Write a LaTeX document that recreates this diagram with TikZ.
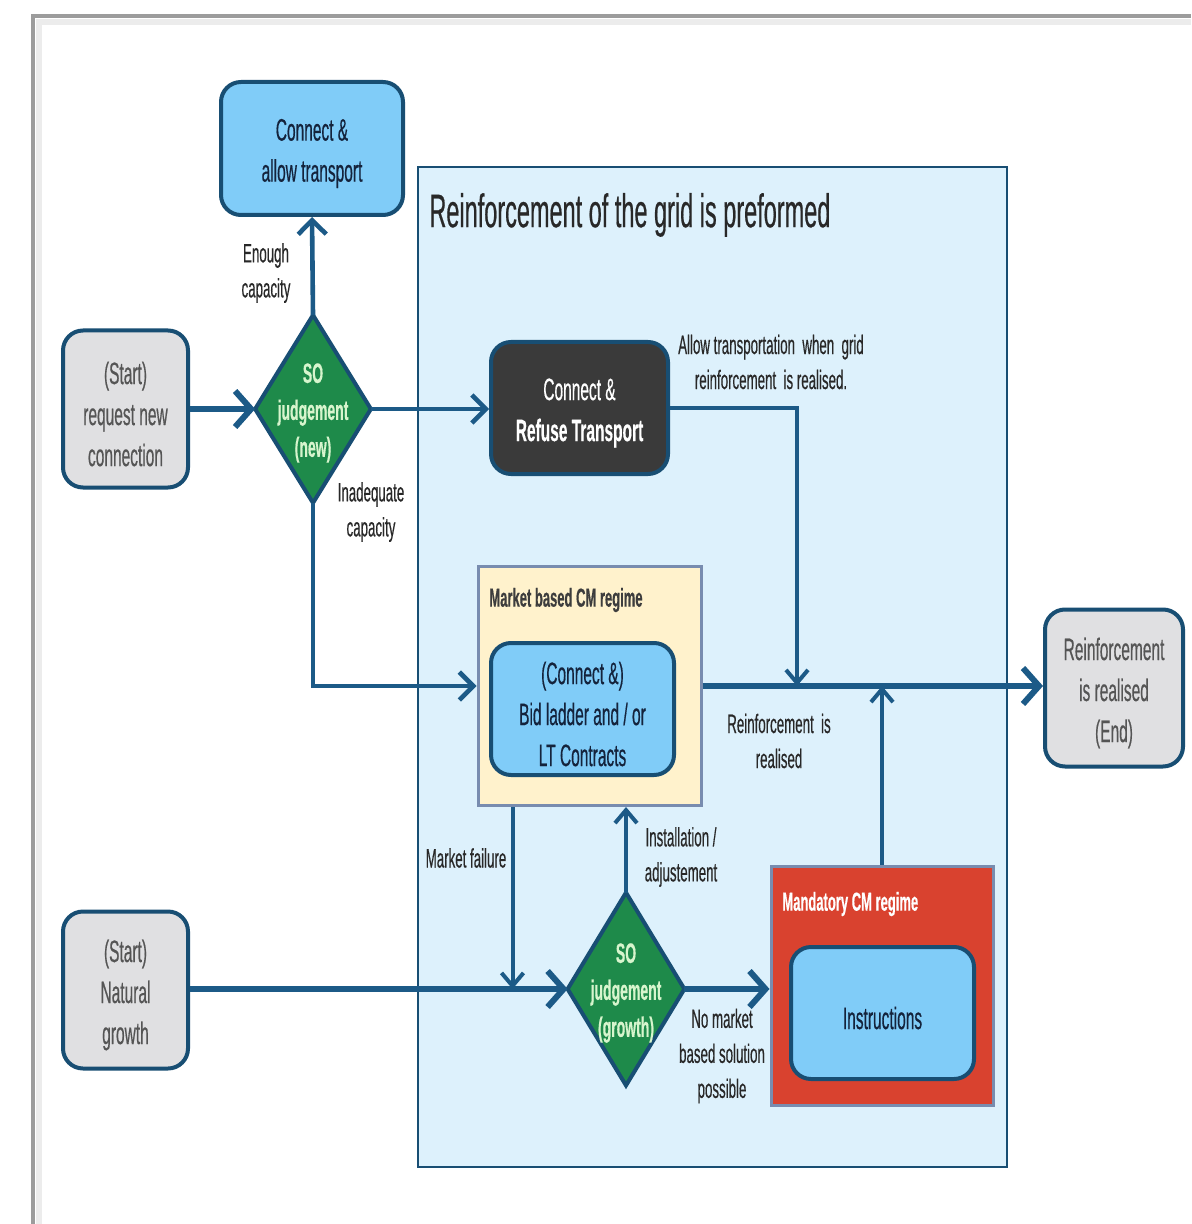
\documentclass[tikz,border=0pt]{standalone}
\usepackage{fontspec}
\setmainfont[FakeStretch=0.5,FakeBold=0.4]{Liberation Sans}
\usetikzlibrary{arrows.meta,calc}
\definecolor{linec}{RGB}{28,90,135}
\definecolor{bord}{RGB}{24,78,115}
\definecolor{lblue}{RGB}{128,204,248}
\definecolor{bgblue}{RGB}{221,241,252}
\definecolor{lgray}{RGB}{224,224,226}
\definecolor{sogreen}{RGB}{30,138,74}
\definecolor{dgray}{RGB}{58,58,58}
\definecolor{cream}{RGB}{255,242,204}
\definecolor{mred}{RGB}{217,66,47}
\definecolor{regbord}{RGB}{120,140,175}
\definecolor{txt}{RGB}{40,40,40}
\definecolor{navytxt}{RGB}{20,35,60}
\definecolor{graytxt}{RGB}{85,85,85}
\definecolor{dtxt}{RGB}{215,245,205}
\newcommand{\boxtext}[2]{\parbox{#1}{\vspace*{5pt}\centering #2}}
\begin{document}
\begin{tikzpicture}[x=0.5pt,y=-0.5pt,
  proc/.style={draw=bord, line width=2pt, rounded corners=10pt, align=center, inner sep=0pt,
     font=\fontsize{15.5}{20.5}\selectfont},
  bluebox/.style={proc, fill=lblue, text=navytxt},
  graybox/.style={proc, fill=lgray, text=graytxt},
  darkbox/.style={proc, fill=dgray, text=white},
  regime/.style={draw=regbord, line width=1.5pt, inner sep=0pt},
  diamshape/.style={fill=sogreen, draw=bord, line width=2pt},
  diamtext/.style={inner sep=0pt, align=center, text=dtxt, font=\bfseries\fontsize{14}{18.5}\selectfont},
  lbl/.style={align=center, text=txt, font=\fontsize{13.3}{17.5}\selectfont, inner sep=0pt},
  arr/.style={draw=linec, line width=3pt, -{Straight Barb[length=8pt,width=18pt]}},
  midarr/.style={draw=linec, line width=2.3pt, -{Straight Barb[length=7pt,width=14pt]}},
  thinarr/.style={draw=linec, line width=2pt, -{Straight Barb[length=6.5pt,width=11pt]}},
]
\useasboundingbox (0,0) rectangle (1191,1224);
\fill[white] (0,0) rectangle (1191,1224);
% frame
\draw[gray!15, line width=3pt] (39,1224) -- (39,22) -- (1191,22);
\draw[gray!70!black!60, line width=1.6pt] (33,1224) -- (33,16) -- (1191,16);

% background region
\node[draw=bord, fill=bgblue, line width=1pt, minimum width=294.5pt, minimum height=500pt, inner sep=0pt] (reinf) at (712.5,667) {};
\node[anchor=west, text=txt, font=\fontsize{23.5}{28}\selectfont, inner sep=0pt] (title) at (429,215) {Reinforcement of the grid is preformed};

% boxes
\node[bluebox, minimum width=91pt, minimum height=66.5pt] (allow) at (312,148.5) {\boxtext{80pt}{Connect \&\\allow transport}};
\node[graybox, minimum width=62.5pt, minimum height=78.5pt] (startA) at (125.5,409) {\boxtext{55pt}{(Start)\\request new\\connection}};
\node[darkbox, minimum width=88.5pt, minimum height=66pt] (refuse) at (579.5,408) {\boxtext{80pt}{Connect \&\\\textbf{Refuse Transport}}};

\node[regime, fill=cream, minimum width=111.5pt, minimum height=119.5pt] (market) at (589.5,686) {};
\node[anchor=west, text=txt!90, font=\bfseries\fontsize{13}{16}\selectfont, inner sep=0pt] (marketlbl) at (489,600) {Market based CM regime};
\node[bluebox, minimum width=91.5pt, minimum height=66pt] (bid) at (582.5,709) {\boxtext{85pt}{(Connect \&)\\Bid ladder and / or\\LT Contracts}};

\node[graybox, minimum width=69pt, minimum height=78.5pt] (endn) at (1114,688) {\boxtext{65pt}{Reinforcement\\is realised\\(End)}};
\node[graybox, minimum width=62.5pt, minimum height=78.5pt] (startB) at (125.5,990) {\boxtext{55pt}{(Start)\\Natural\\growth}};

\node[regime, fill=mred, minimum width=111pt, minimum height=119.5pt] (mand) at (882,985.5) {};
\node[anchor=west, text=white, font=\bfseries\fontsize{13}{16}\selectfont, inner sep=0pt] (mandlbl) at (782,904) {Mandatory CM regime};
\node[bluebox, minimum width=91.5pt, minimum height=66pt] (instr) at (882.5,1013) {\boxtext{80pt}{Instructions}};

% diamonds
\node[inner sep=0pt, minimum width=57.5pt, minimum height=93.5pt] (dnew) at (313,409) {};
\draw[diamshape] (dnew.north) -- (dnew.east) -- (dnew.south) -- (dnew.west) -- cycle;
\node[diamtext] (dnewt) at ([yshift=-2pt]dnew.center) {SO\\judgement\\(new)};

\node[inner sep=0pt, minimum width=58pt, minimum height=96pt] (dgrowth) at (626,989) {};
\draw[diamshape] (dgrowth.north) -- (dgrowth.east) -- (dgrowth.south) -- (dgrowth.west) -- cycle;
\node[diamtext] (dgrowtht) at ([yshift=-2pt]dgrowth.center) {SO\\judgement\\(growth)};

% junctions
\coordinate (j1) at (797,686);
\coordinate (j2) at (mand.north |- market.east);
\coordinate (mf) at ($(market.south west)+(36,0)$);

% connectors
\draw[arr] (startA.east) -- (dnew.west);
\draw[midarr] (dnew.north) -- (allow.south);
\draw[midarr] (dnew.east) -- (dnew.east -| refuse.west);
\draw[thinarr] (refuse.east) -| (j1);
\draw[midarr] (dnew.south) |- (market.west);
\draw[arr] (market.east) -- (market.east -| endn.west);
\draw[thinarr] (mand.north) -- (j2);
\draw[thinarr] (mf) -- (mf |- dgrowth.west);
\draw[thinarr] (dgrowth.north) -- (dgrowth.north |- market.south);
\draw[arr] (startB.east |- dgrowth.west) -- (dgrowth.west);
\draw[arr] (dgrowth.east) -- (dgrowth.east -| mand.west);

% labels
\node[lbl] (l1) at (266,273) {Enough\\capacity};
\node[lbl] (l2) at (371,512) {Inadequate\\capacity};
\node[lbl] (l3) at (771,362) {Allow transportation\ \ when\ \ grid\\reinforcement\ \ is realised.};
\node[lbl] (l4) at (779,741) {Reinforcement\ \ is\\realised};
\node[lbl] (l5) at (466,858) {Market failure};
\node[lbl] (l6) at (681,857) {Installation /\\adjustement};
\node[lbl] (l7) at (722,1056) {No market\\based solution\\possible};
\end{tikzpicture}
\end{document}
